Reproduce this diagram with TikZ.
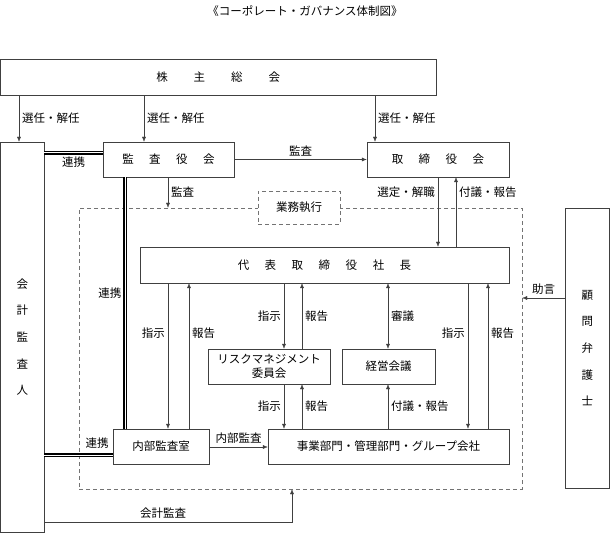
\documentclass[tikz,border=0pt]{standalone}
\usepackage{fontspec}
\newfontfamily\jp{Noto Sans CJK JP}
\usetikzlibrary{arrows.meta}
\newcommand{\jsp}{\hspace{15.5pt}}
\newcommand{\vsp}{\\[12.7pt]}
\tikzset{
  box/.style={draw=black!75, fill=white, inner sep=0pt, align=center},
  dashbox/.style={draw=black!55, dashed, dash pattern=on 4pt off 3pt, fill=white, inner sep=0pt},
  link/.style={draw=black, double=white, line width=1.2pt, double distance=1pt},
  lbl/.style={inner sep=3pt}
}
\begin{document}
\begin{tikzpicture}[x=1pt,y=-1pt,>={Latex[length=5pt,width=4pt]},
    every node/.style={font=\jp\fontsize{11.5}{14}\selectfont}]
  \useasboundingbox (0,0) rectangle (610,534);
  \node (title) at (305,11) {《コーポレート・ガバナンス体制図》};

  % area of business execution
  \node[draw=black!55, dash pattern=on 4pt off 3pt, minimum width=443pt, minimum height=281pt] (shikko) at (300.5,348.5) {};

  \node[box, minimum width=435.5pt, minimum height=36pt] (skk) at (218.25,77)
    {株\hspace{26pt}主\hspace{26pt}総\hspace{26pt}会};
  \node[box, minimum width=43.5pt, minimum height=390pt] (kansanin) at (22.25,337)
    {会\vsp 計\vsp 監\vsp 査\vsp 人};
  \node[box, minimum width=131pt, minimum height=35pt] (kansayaku) at (168.5,159.5)
    {監\jsp 査\jsp 役\jsp 会};
  \node[box, minimum width=142pt, minimum height=35pt] (torishimari) at (438,159.5)
    {取\jsp 締\jsp 役\jsp 会};
  \node[dashbox, minimum width=82pt, minimum height=33pt] (gyomu) at (299,207.5) {業務執行};
  \node[box, minimum width=369pt, minimum height=36pt] (daihyo) at (324.5,265)
    {代\jsp 表\jsp 取\jsp 締\jsp 役\jsp 社\jsp 長};
  \node[box, minimum width=122pt, minimum height=35pt] (risk) at (269,366.5)
    {リスクマネジメント\\委員会};
  \node[box, minimum width=93pt, minimum height=35pt] (keiei) at (388.5,366.5) {経営会議};
  \node[box, minimum width=96pt, minimum height=35pt] (naibu) at (161,446.5) {内部監査室};
  \node[box, minimum width=241pt, minimum height=35pt] (jigyo) at (388.5,446.5)
    {事業部門・管理部門・グループ会社};
  \node[box, minimum width=44.5pt, minimum height=280pt] (komon) at (587.25,348)
    {顧\vsp 問\vsp 弁\vsp 護\vsp 士};

  % cooperation lines
  \draw[link] (kansanin.east |- 0,153) -- (kansayaku.west |- 0,153)
    node[lbl, midway, below] {連携};
  \draw[link] (125,0 |- kansayaku.south) -- (125,0 |- naibu.north)
    node[lbl, pos=0.46, left] {連携};
  \draw[link] (kansanin.east |- 0,455) -- (naibu.west |- 0,455)
    node[lbl, pos=0.77, above=3pt] {連携};

  \begin{scope}[->,draw=black!75]
    \draw (19,0 |- skk.south) -- (19,0 |- kansanin.north) node[lbl, midway, right] {選任・解任};
    \draw (144,0 |- skk.south) -- (144,0 |- kansayaku.north) node[lbl, midway, right] {選任・解任};
    \draw (375,0 |- skk.south) -- (375,0 |- torishimari.north) node[lbl, midway, right] {選任・解任};

    \draw (kansayaku.east) -- (torishimari.west) node[lbl, midway, above] {監査};
    \draw (168,0 |- kansayaku.south) -- (168,0 |- shikko.north) node[lbl, midway, right] {監査};

    \draw (438,0 |- torishimari.south) -- (438,0 |- daihyo.north) node[lbl, pos=0.22, left] {選定・解職};
    \draw (456,0 |- daihyo.north) -- (456,0 |- torishimari.south) node[lbl, pos=0.78, right] {付議・報告};

    \draw (168,0 |- daihyo.south) -- (168,0 |- naibu.north) node[lbl, pos=0.34, left] {指示};
    \draw (189,0 |- naibu.north) -- (189,0 |- daihyo.south) node[lbl, pos=0.66, right] {報告};

    \draw (284,0 |- daihyo.south) -- (284,0 |- risk.north) node[lbl, midway, left] {指示};
    \draw (302,0 |- risk.north) -- (302,0 |- daihyo.south) node[lbl, midway, right] {報告};
    \draw[<->] (388,0 |- daihyo.south) -- (388,0 |- keiei.north) node[lbl, midway, right] {審議};

    \draw (468,0 |- daihyo.south) -- (468,0 |- jigyo.north) node[lbl, pos=0.34, left] {指示};
    \draw (488,0 |- jigyo.north) -- (488,0 |- daihyo.south) node[lbl, pos=0.66, right] {報告};

    \draw (284,0 |- risk.south) -- (284,0 |- jigyo.north) node[lbl, midway, left] {指示};
    \draw (302,0 |- jigyo.north) -- (302,0 |- risk.south) node[lbl, midway, right] {報告};
    \draw (388,0 |- jigyo.north) -- (388,0 |- keiei.south) node[lbl, midway, right] {付議・報告};

    \draw (naibu.east |- 0,447) -- (jigyo.west |- 0,447) node[lbl, midway, above] {内部監査};

    \draw (komon.west |- 0,298) -- (shikko.east |- 0,298) node[lbl, midway, above] {助言};

    \draw (kansanin.east |- 0,522) -| (shikko.south -| 292,0) node[lbl, pos=0.24, above] {会計監査};
  \end{scope}
\end{tikzpicture}
\end{document}
